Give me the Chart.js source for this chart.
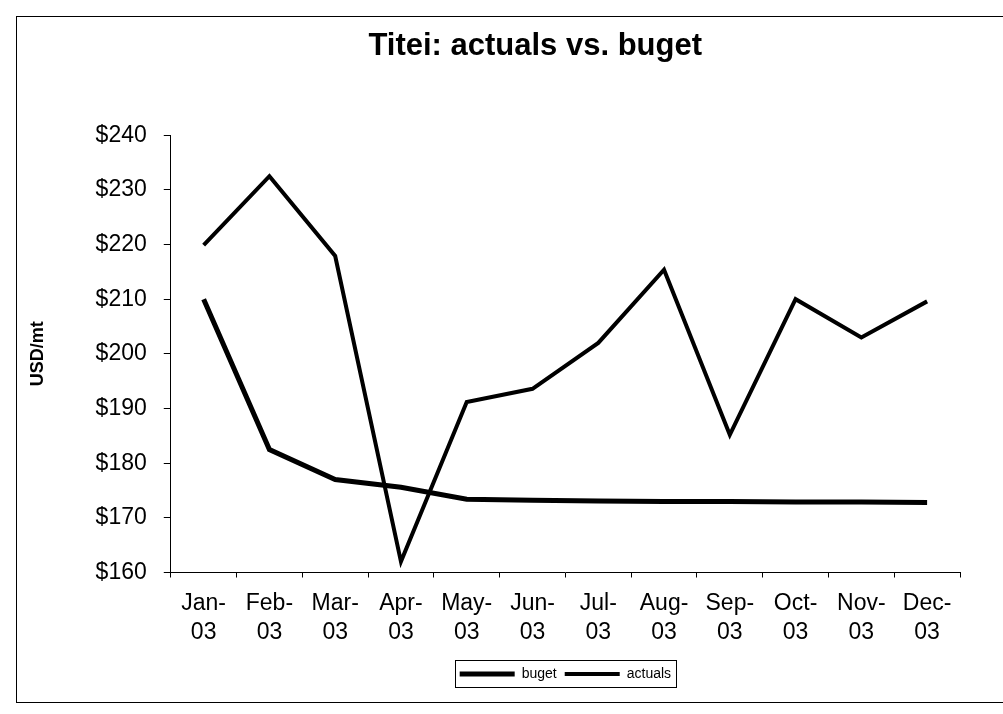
<!DOCTYPE html>
<html>
<head>
<meta charset="utf-8">
<script src="https://cdn.jsdelivr.net/npm/chart.js@4"></script>
<style>
  body { margin: 0; background: #fff; }
  #frame { position: absolute; left: 16px; top: 16px; width: 1000px; height: 687px; border: 1px solid #000; box-sizing: border-box; }
  #chart { position: absolute; left: 0; top: 0; }
</style>
</head>
<body>
<div id="frame"></div>
<canvas id="chart" width="1003" height="714"></canvas>
<script>
document.addEventListener('DOMContentLoaded', function() {

    // months on the category axis
    const months = [['Jan-','03'], ['Feb-','03'], ['Mar-','03'], ['Apr-','03'], ['May-','03'], ['Jun-','03'],
                    ['Jul-','03'], ['Aug-','03'], ['Sep-','03'], ['Oct-','03'], ['Nov-','03'], ['Dec-','03']];

    // USD/mt
    const buget   = [210, 182.5, 177, 175.6, 173.4, 173.2, 173.1, 173, 173, 172.9, 172.9, 172.8];
    const actuals = [219.9, 232.5, 217.9, 162, 191.2, 193.6, 202, 215.4, 185.2, 210, 203, 209.6];

    const yMin = 160, yMax = 240, yStep = 10;

    // thin box round the legend items, like the excel one
    const legendBox = {
        id: 'legendBox',
        afterDraw(chart) {
            const lg = chart.legend;
            if (!lg || !lg.legendHitBoxes || !lg.legendHitBoxes.length) return;
            let x0 = Infinity, x1 = -Infinity, y0 = Infinity, y1 = -Infinity;
            lg.legendHitBoxes.forEach(b => {
                x0 = Math.min(x0, b.left); x1 = Math.max(x1, b.left + b.width);
                y0 = Math.min(y0, b.top);  y1 = Math.max(y1, b.top + b.height);
            });
            const c = chart.ctx;
            c.save();
            c.strokeStyle = '#000';
            c.lineWidth = 1;
            c.strokeRect(Math.round(x0 - 5) + 0.5, Math.round(y0 - 7) + 0.5, Math.round(x1 - x0 + 10), Math.round(y1 - y0 + 13));
            c.restore();
        }
    };

    const ctx = document.getElementById('chart').getContext('2d');
    const chart = new Chart(ctx, {
        type: 'line',
        data: {
            labels: months,
            datasets: [{
                label: 'buget',
                data: buget,
                borderColor: '#000',
                backgroundColor: '#000',
                borderWidth: 5,
                pointRadius: 0,
                tension: 0
            }, {
                label: 'actuals',
                data: actuals,
                borderColor: '#000',
                backgroundColor: '#000',
                borderWidth: 4,
                pointRadius: 0,
                tension: 0
            }]
        },
        options: {
            responsive: false,
            animation: false,
            layout: { padding: { left: 16, right: 43, top: 8, bottom: 23 } },
            plugins: {
                title: {
                    display: true,
                    fullSize: false,
                    text: 'Titei: actuals vs. buget\u00a0\u00a0\u00a0\u00a0\u00a0\u00a0\u00a0',
                    color: '#000',
                    font: { family: 'Liberation Sans', size: 31, weight: 'bold' },
                    padding: { top: 20, bottom: 70 }
                },
                legend: {
                    position: 'bottom',
                    fullSize: false,
                    labels: {
                        color: '#000',
                        font: { family: 'Liberation Sans', size: 14 },
                        usePointStyle: true,
                        pointStyle: 'line',
                        pointStyleWidth: 55,
                        boxWidth: 55,
                        padding: 8
                    }
                },
                tooltip: { enabled: false }
            },
            scales: {
                x: {
                    offset: true,
                    grid: { display: true, offset: true, drawOnChartArea: false, drawTicks: true, tickLength: 5, color: '#000' },
                    border: { color: '#000', width: 1 },
                    ticks: { color: '#000', font: { family: 'Liberation Sans', size: 23, lineHeight: 1.25 }, maxRotation: 0, padding: 12 }
                },
                y: {
                    min: yMin,
                    max: yMax,
                    title: {
                        display: true,
                        text: 'USD/mt',
                        color: '#000',
                        font: { family: 'Liberation Sans', size: 18, weight: 'bold' },
                        padding: { top: 11, bottom: 30 }
                    },
                    grid: { display: true, drawOnChartArea: false, drawTicks: true, tickLength: 7, color: '#000' },
                    border: { color: '#000', width: 1 },
                    ticks: {
                        stepSize: yStep,
                        color: '#000',
                        font: { family: 'Liberation Sans', size: 23 },
                        padding: 17,
                        callback: v => '$' + v
                    }
                }
            }
        },
        plugins: [legendBox]
    });
});
</script>
</body>
</html>
